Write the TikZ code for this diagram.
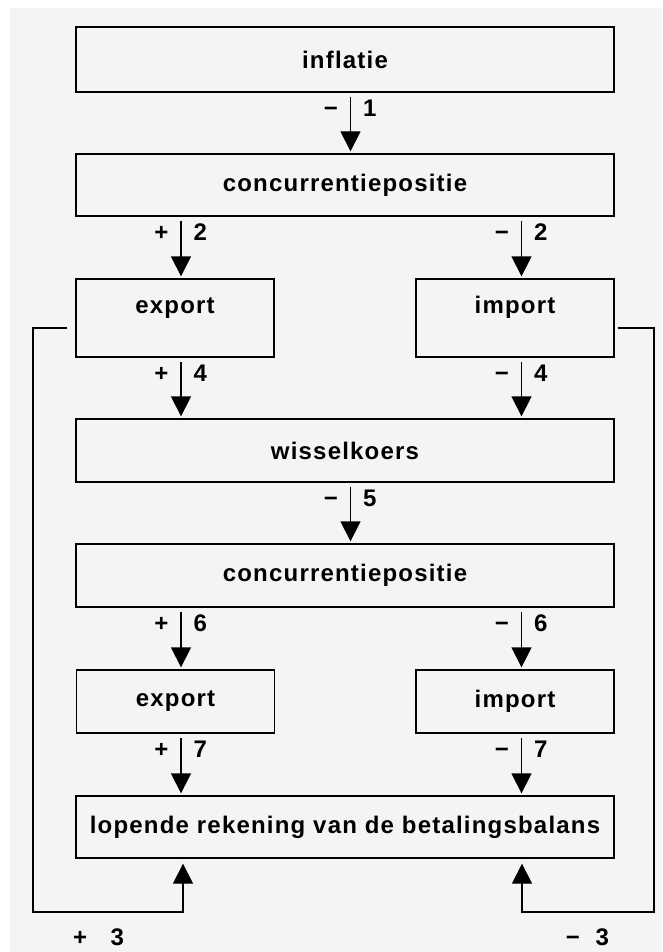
\documentclass[tikz,border=0pt]{standalone}
\usepackage{fontspec}
\newfontfamily\diafont{Liberation Sans}[LetterSpace=5]
\usetikzlibrary{arrows.meta}
\definecolor{achter}{HTML}{F4F4F4}
\tikzset{
    blok/.style = {rectangle, draw=black, line width=1.3pt, inner sep=0pt, minimum width=538pt, minimum height=63pt, font=\diafont\bfseries\fontsize{24}{28}\selectfont},
    blokk/.style = {blok, minimum width=198pt},
    hoog/.style = {minimum height=78pt, text height=17pt, text depth=27pt},
    pijl/.style = {line width=1.3pt, -{Triangle[length=20pt,width=20pt]}, shorten <=4pt, shorten >=2pt},
    lus/.style = {pijl, shorten >=5pt},
    sgn/.style = {anchor=base east, inner sep=0pt, xshift=-12pt, yshift=-24pt, font=\diafont\bfseries\fontsize{24}{28}\selectfont},
    num/.style = {anchor=base west, inner sep=0pt, xshift=12pt, yshift=-24pt, font=\diafont\bfseries\fontsize{24}{28}\selectfont},
    lab/.style = {anchor=base, inner sep=0pt, font=\diafont\bfseries\fontsize{24}{28}\selectfont}
}

\begin{document}
\begin{tikzpicture}[x=1pt,y=-1pt]
\useasboundingbox (0,0) rectangle (662,952);
\fill[white] (0,0) rectangle (662,952);
\fill[achter] (10,8) rectangle (662,952);
% kolommen voor de pijlen
\coordinate (cm) at (350.5,0);
\coordinate (cl) at (181,0);
\coordinate (cr) at (521.5,0);
\coordinate (ul) at (183,0);
\coordinate (ur) at (522,0);
\coordinate (lo) at (33,912);
\coordinate (ro) at (654,912);
%
\node[blok, minimum height=65pt] at (345,59.5) (inflatie) {inflatie};
\node[blok, minimum height=62pt] at (345,185) (conc1) {concurrentiepositie};
\node[blokk, hoog] at (175,318) (exp1) {export};
\node[blokk, hoog] at (515,318) (imp1) {import};
\node[blok] at (345,450.5) (wissel) {wisselkoers};
\node[blok] at (345,575.5) (conc2) {concurrentiepositie};
\node[blokk] at (175.5,701.5) (exp2) {export};
\node[blokk] at (515,701.5) (imp2) {import};
\node[blok, minimum height=62pt] at (345,827) (balans) {lopende rekening van de betalingsbalans};
%
\draw[pijl] (inflatie.south -| cm) node[sgn] {−} node[num] {1} -- (conc1.north -| cm);
\draw[pijl] (conc1.south -| cl) node[sgn] {+} node[num] {2} -- (exp1.north -| cl);
\draw[pijl] (conc1.south -| cr) node[sgn] {−} node[num] {2} -- (imp1.north -| cr);
\draw[pijl] (exp1.south -| cl) node[sgn] {+} node[num] {4} -- (wissel.north -| cl);
\draw[pijl] (imp1.south -| cr) node[sgn] {−} node[num] {4} -- (wissel.north -| cr);
\draw[pijl] (wissel.south -| cm) node[sgn] {−} node[num] {5} -- (conc2.north -| cm);
\draw[pijl] (conc2.south -| cl) node[sgn] {+} node[num] {6} -- (exp2.north -| cl);
\draw[pijl] (conc2.south -| cr) node[sgn] {−} node[num] {6} -- (imp2.north -| cr);
\draw[pijl] (exp2.south -| cl) node[sgn] {+} node[num] {7} -- (balans.north -| cl);
\draw[pijl] (imp2.south -| cr) node[sgn] {−} node[num] {7} -- (balans.north -| cr);
% terugkoppeling
\draw[lus, shorten <=8pt] ([yshift=-10pt]exp1.west) -| (lo) -| (balans.south -| ul);
\draw[lus, shorten <=3pt] ([yshift=-10pt]imp1.east) -| (ro) -| (balans.south -| ur);
\node[lab] at (98.5,945) (plus3) {+\ \ \ 3};
\node[lab] at (587.5,945) (min3) {−\ \ 3};
\end{tikzpicture}
\end{document}
